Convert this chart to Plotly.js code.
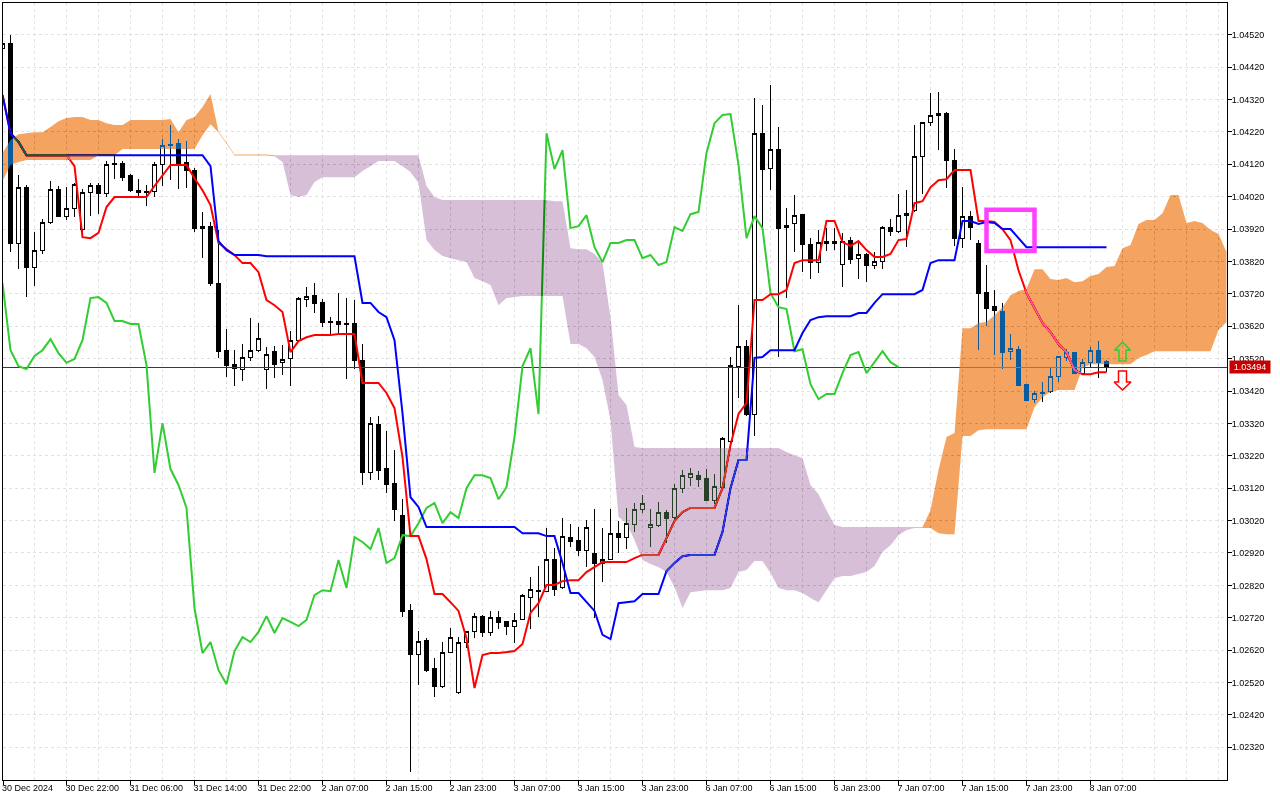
<!DOCTYPE html>
<html>
<head>
<meta charset="utf-8">
<script src="https://cdn.plot.ly/plotly-3.0.1.min.js"></script>
<style>
html,body{margin:0;padding:0;background:#fff;overflow:hidden}
#chart{width:1280px;height:800px}
/* the cloud is painted the way the terminal paints it: XOR-like over everything beneath */
.js-fill{mix-blend-mode:difference}
.boxlayer path{shape-rendering:crispEdges}
</style>
</head>
<body>
<div id="chart"></div>
<script>
const tickLabels=["30 Dec 2024","30 Dec 22:00","31 Dec 06:00","31 Dec 14:00","31 Dec 22:00","2 Jan 07:00","2 Jan 15:00","2 Jan 23:00","3 Jan 07:00","3 Jan 15:00","3 Jan 23:00","6 Jan 07:00","6 Jan 15:00","6 Jan 23:00","7 Jan 07:00","7 Jan 15:00","7 Jan 23:00","8 Jan 07:00"];
const tickBars=[0.07,8,16,24,32,40,48,56,64,72,80,88,96,104,112,120,128,136];
const priceTicks=[1.0232,1.0242,1.0252,1.0262,1.0272,1.0282,1.0292,1.0302,1.0312,1.0322,1.0332,1.0342,1.0352,1.0362,1.0372,1.0382,1.0392,1.0402,1.0412,1.0422,1.0432,1.0442,1.0452];
const open=[1.04476,1.04492,1.03877,1.04049,1.03802,1.03855,1.03939,1.04043,1.03960,1.03982,1.03920,1.04034,1.04056,1.04031,1.04118,1.04124,1.04084,1.04040,1.04034,1.04037,1.04118,1.04179,1.04185,1.04127,1.04102,1.03923,1.03929,1.03753,1.03546,1.03503,1.03485,1.03525,1.03546,1.03485,1.03543,1.03507,1.03519,1.03577,1.03704,1.03716,1.03692,1.03633,1.03636,1.03627,1.03627,1.03513,1.03167,1.03318,1.03182,1.03133,1.03037,1.02741,1.02608,1.02651,1.02564,1.02509,1.02614,1.02488,1.02645,1.02676,1.02725,1.02673,1.02722,1.02707,1.02694,1.02716,1.02784,1.02802,1.02802,1.02901,1.02812,1.02969,1.02957,1.02929,1.02917,1.02886,1.02901,1.02979,1.02969,1.03009,1.03055,1.03000,1.03006,1.03046,1.03028,1.03120,1.03154,1.03160,1.03151,1.03083,1.03123,1.03265,1.03497,1.03556,1.03349,1.04216,1.04108,1.04167,1.03926,1.03936,1.03966,1.03871,1.03818,1.03883,1.03877,1.03812,1.03886,1.03830,1.03840,1.03806,1.03821,1.03926,1.03911,1.03963,1.03976,1.04145,1.04250,1.04272,1.04278,1.04133,1.03892,1.03960,1.03874,1.03725,1.03682,1.03667,1.03543,1.03549,1.03441,1.03395,1.03411,1.03417,1.03466,1.03525,1.03540,1.03475,1.03507,1.03546,1.03510];
const high=[1.04504,1.04519,1.04087,1.04056,1.03911,1.03951,1.04068,1.04053,1.04049,1.04062,1.04043,1.04062,1.04062,1.04130,1.04148,1.04130,1.04090,1.04074,1.04056,1.04127,1.04198,1.04241,1.04198,1.04192,1.04108,1.03973,1.03942,1.03917,1.03611,1.03546,1.03565,1.03645,1.03630,1.03556,1.03559,1.03562,1.03605,1.03710,1.03741,1.03753,1.03704,1.03648,1.03722,1.03707,1.03701,1.03565,1.03340,1.03343,1.03296,1.03238,1.03086,1.02762,1.02679,1.02657,1.02595,1.02645,1.02688,1.02660,1.02679,1.02735,1.02728,1.02741,1.02741,1.02710,1.02735,1.02793,1.02846,1.02880,1.02997,1.02935,1.03028,1.03009,1.03000,1.03022,1.03055,1.02997,1.03055,1.03019,1.03059,1.03074,1.03099,1.03055,1.03077,1.03052,1.03133,1.03176,1.03182,1.03173,1.03179,1.03164,1.03278,1.03525,1.03685,1.03577,1.04324,1.04303,1.04365,1.04235,1.03985,1.04025,1.03966,1.03892,1.03917,1.03923,1.03923,1.03908,1.03895,1.03877,1.03846,1.03849,1.03929,1.03951,1.04028,1.04040,1.04241,1.04250,1.04340,1.04343,1.04281,1.04167,1.04049,1.03976,1.03886,1.03809,1.03732,1.03692,1.03596,1.03559,1.03441,1.03420,1.03448,1.03491,1.03528,1.03549,1.03540,1.03519,1.03556,1.03574,1.03516];
const low=[1.04467,1.03849,1.03796,1.03710,1.03744,1.03843,1.03936,1.03957,1.03948,1.03957,1.03892,1.03960,1.03966,1.04019,1.04074,1.04068,1.04034,1.04022,1.03991,1.04019,1.04053,1.04071,1.04043,1.04046,1.03911,1.03830,1.03744,1.03522,1.03463,1.03435,1.03451,1.03513,1.03540,1.03426,1.03460,1.03469,1.03435,1.03574,1.03679,1.03661,1.03617,1.03596,1.03599,1.03457,1.03488,1.03130,1.03145,1.03145,1.03105,1.03019,1.02722,1.02244,1.02512,1.02552,1.02475,1.02503,1.02611,1.02484,1.02626,1.02657,1.02660,1.02663,1.02685,1.02667,1.02642,1.02713,1.02685,1.02722,1.02799,1.02787,1.02808,1.02938,1.02910,1.02876,1.02719,1.02830,1.02899,1.02920,1.02932,1.02985,1.03043,1.02938,1.03000,1.02951,1.03022,1.03105,1.03126,1.03123,1.03080,1.03071,1.03120,1.03259,1.03398,1.03343,1.03281,1.03923,1.04040,1.03525,1.03707,1.03849,1.03787,1.03766,1.03784,1.03852,1.03855,1.03741,1.03812,1.03766,1.03756,1.03796,1.03796,1.03898,1.03908,1.03864,1.03973,1.04028,1.04238,1.04164,1.04046,1.03868,1.03861,1.03886,1.03546,1.03620,1.03531,1.03488,1.03516,1.03437,1.03389,1.03383,1.03386,1.03414,1.03448,1.03513,1.03472,1.03472,1.03494,1.03460,1.03478];
const close=[1.04492,1.03877,1.04049,1.03802,1.03855,1.03939,1.04043,1.03960,1.03982,1.04059,1.04034,1.04056,1.04031,1.04118,1.04124,1.04080,1.04040,1.04034,1.04037,1.04118,1.04179,1.04182,1.04124,1.04102,1.03923,1.03929,1.03753,1.03543,1.03500,1.03488,1.03525,1.03546,1.03583,1.03534,1.03503,1.03516,1.03577,1.03707,1.03713,1.03689,1.03633,1.03636,1.03624,1.03625,1.03513,1.03167,1.03321,1.03176,1.03130,1.03055,1.02738,1.02608,1.02648,1.02558,1.02509,1.02614,1.02660,1.02645,1.02676,1.02725,1.02673,1.02722,1.02704,1.02694,1.02713,1.02790,1.02808,1.02805,1.02901,1.02808,1.02972,1.02954,1.02929,1.03000,1.02886,1.02901,1.02979,1.02969,1.03012,1.03055,1.03074,1.03009,1.03046,1.03025,1.03120,1.03160,1.03164,1.03148,1.03083,1.03126,1.03272,1.03500,1.03556,1.03349,1.04216,1.04105,1.04167,1.03923,1.03932,1.03963,1.03871,1.03818,1.03880,1.03874,1.03883,1.03883,1.03827,1.03843,1.03806,1.03821,1.03926,1.03911,1.03963,1.03969,1.04145,1.04250,1.04272,1.04278,1.04133,1.03892,1.03960,1.03926,1.03722,1.03676,1.03670,1.03540,1.03552,1.03438,1.03392,1.03411,1.03414,1.03466,1.03528,1.03540,1.03475,1.03507,1.03546,1.03507,1.03494];
const tenkan=[1.04334,1.04216,1.04189,1.04148,1.04148,1.04148,1.04148,1.04148,1.04148,1.04114,1.03895,1.03892,1.03908,1.03988,1.04019,1.04019,1.04019,1.04019,1.04019,1.04053,1.04087,1.04118,1.04118,1.04118,1.04077,1.04040,1.03994,1.03877,1.03858,1.03840,1.03815,1.03815,1.03787,1.03701,1.03685,1.03664,1.03540,1.03574,1.03586,1.03593,1.03593,1.03593,1.03596,1.03596,1.03596,1.03445,1.03445,1.03445,1.03414,1.03367,1.03216,1.02972,1.02972,1.02901,1.02793,1.02793,1.02768,1.02741,1.02657,1.02503,1.02605,1.02611,1.02611,1.02614,1.02617,1.02639,1.02735,1.02765,1.02821,1.02821,1.02833,1.02836,1.02836,1.02861,1.02876,1.02892,1.02892,1.02892,1.02892,1.02904,1.02914,1.02914,1.02914,1.02966,1.03019,1.03046,1.03059,1.03059,1.03059,1.03059,1.03120,1.03253,1.03349,1.03383,1.03701,1.03701,1.03719,1.03719,1.03732,1.03815,1.03824,1.03824,1.03824,1.03945,1.03945,1.03880,1.03868,1.03883,1.03855,1.03834,1.03834,1.03843,1.03886,1.03889,1.04000,1.04006,1.04049,1.04071,1.04074,1.04102,1.04102,1.04102,1.03945,1.03945,1.03942,1.03920,1.03886,1.03793,1.03722,1.03676,1.03630,1.03602,1.03565,1.03540,1.03485,1.03472,1.03472,1.03478,1.03478];
const kijun=[1.04334,1.04216,1.04189,1.04148,1.04148,1.04148,1.04148,1.04148,1.04148,1.04148,1.04148,1.04148,1.04148,1.04148,1.04148,1.04148,1.04148,1.04148,1.04148,1.04148,1.04148,1.04148,1.04148,1.04148,1.04148,1.04148,1.04114,1.03883,1.03855,1.03840,1.03840,1.03840,1.03840,1.03836,1.03836,1.03836,1.03836,1.03836,1.03836,1.03836,1.03836,1.03836,1.03836,1.03836,1.03836,1.03692,1.03692,1.03664,1.03648,1.03577,1.03352,1.03092,1.03062,1.03000,1.03000,1.03000,1.03000,1.03000,1.03000,1.03000,1.03000,1.03000,1.03000,1.03000,1.03000,1.02981,1.02981,1.02981,1.02972,1.02972,1.02889,1.02796,1.02796,1.02768,1.02741,1.02667,1.02654,1.02765,1.02768,1.02771,1.02793,1.02793,1.02793,1.02864,1.02889,1.02910,1.02914,1.02914,1.02914,1.02914,1.02985,1.03120,1.03207,1.03207,1.03522,1.03525,1.03546,1.03546,1.03546,1.03546,1.03599,1.03639,1.03648,1.03651,1.03651,1.03651,1.03651,1.03661,1.03661,1.03692,1.03719,1.03719,1.03719,1.03719,1.03719,1.03732,1.03815,1.03824,1.03824,1.03824,1.03945,1.03945,1.03936,1.03942,1.03939,1.03920,1.03920,1.03892,1.03864,1.03864,1.03864,1.03864,1.03864,1.03864,1.03864,1.03864,1.03864,1.03864,1.03864];
const chikou=[1.03753,1.03546,1.03497,1.03488,1.03528,1.03546,1.03580,1.03537,1.03507,1.03519,1.03577,1.03707,1.03710,1.03692,1.03636,1.03636,1.03627,1.03627,1.03500,1.03167,1.03321,1.03179,1.03130,1.03059,1.02750,1.02611,1.02645,1.02558,1.02515,1.02617,1.02660,1.02645,1.02676,1.02725,1.02673,1.02719,1.02707,1.02694,1.02713,1.02790,1.02805,1.02802,1.02898,1.02812,1.02969,1.02954,1.02932,1.02997,1.02889,1.02904,1.02975,1.02972,1.03012,1.03059,1.03074,1.03012,1.03046,1.03028,1.03120,1.03160,1.03160,1.03151,1.03086,1.03123,1.03278,1.03497,1.03552,1.03349,1.04216,1.04105,1.04164,1.03923,1.03929,1.03963,1.03864,1.03818,1.03877,1.03877,1.03886,1.03886,1.03830,1.03840,1.03809,1.03818,1.03926,1.03914,1.03966,1.03973,1.04155,1.04247,1.04272,1.04275,1.04118,1.03892,1.03960,1.03923,1.03722,1.03679,1.03673,1.03543,1.03549,1.03441,1.03395,1.03411,1.03411,1.03475,1.03531,1.03540,1.03475,1.03509,1.03543,1.03509,1.03494];
const cloudTop=[1.04155,1.04195,1.04213,1.04216,1.04219,1.04219,1.04235,1.04253,1.04263,1.04266,1.04266,1.04257,1.04257,1.04247,1.04241,1.04241,1.04257,1.04257,1.04257,1.04257,1.04257,1.04260,1.04219,1.04257,1.04266,1.04297,1.04337,1.04221,1.04187,1.04150,1.04150,1.04150,1.04150,1.04150,1.04148,1.04148,1.04148,1.04148,1.04148,1.04148,1.04148,1.04148,1.04148,1.04148,1.04148,1.04148,1.04148,1.04148,1.04148,1.04148,1.04148,1.04148,1.04148,1.04053,1.04019,1.04010,1.04010,1.04010,1.04010,1.04010,1.04010,1.04010,1.04010,1.04010,1.04010,1.04010,1.04010,1.04010,1.04010,1.04006,1.04006,1.03861,1.03858,1.03858,1.03843,1.03815,1.03648,1.03408,1.03377,1.03247,1.03244,1.03244,1.03244,1.03244,1.03244,1.03244,1.03244,1.03244,1.03244,1.03244,1.03244,1.03244,1.03244,1.03244,1.03244,1.03244,1.03244,1.03244,1.03232,1.03222,1.03213,1.03130,1.03102,1.03052,1.03006,1.03000,1.03000,1.03000,1.03000,1.03000,1.03000,1.03000,1.03000,1.03000,1.03000,1.03000,1.03052,1.03176,1.03278,1.03290,1.03614,1.03614,1.03630,1.03633,1.03654,1.03679,1.03716,1.03729,1.03735,1.03796,1.03796,1.03766,1.03763,1.03769,1.03756,1.03759,1.03775,1.03781,1.03803,1.03806,1.03861,1.03871,1.03936,1.03948,1.03948,1.03969,1.04025,1.04025,1.03939,1.03945,1.03939,1.03917,1.03905,1.03849];
const cloudBottom=[1.04068,1.04118,1.04127,1.04133,1.04133,1.04133,1.04133,1.04133,1.04133,1.04133,1.04133,1.04133,1.04148,1.04148,1.04148,1.04167,1.04167,1.04167,1.04167,1.04167,1.04167,1.04167,1.04167,1.04167,1.04167,1.04210,1.04244,1.04218,1.04184,1.04147,1.04147,1.04147,1.04147,1.04147,1.04145,1.04127,1.04025,1.04019,1.04025,1.04065,1.04080,1.04080,1.04080,1.04080,1.04080,1.04099,1.04114,1.04130,1.04130,1.04130,1.04114,1.04096,1.04062,1.03886,1.03855,1.03837,1.03830,1.03824,1.03818,1.03769,1.03759,1.03747,1.03685,1.03707,1.03710,1.03713,1.03713,1.03713,1.03713,1.03713,1.03713,1.03565,1.03565,1.03552,1.03525,1.03454,1.03330,1.03031,1.03012,1.02960,1.02898,1.02886,1.02876,1.02861,1.02815,1.02750,1.02799,1.02802,1.02805,1.02805,1.02805,1.02812,1.02861,1.02867,1.02895,1.02895,1.02858,1.02812,1.02805,1.02805,1.02796,1.02781,1.02768,1.02805,1.02842,1.02849,1.02849,1.02855,1.02861,1.02880,1.02923,1.02944,1.02975,1.02991,1.02997,1.02997,1.02997,1.02981,1.02978,1.02978,1.03281,1.03281,1.03299,1.03302,1.03302,1.03302,1.03302,1.03302,1.03302,1.03370,1.03401,1.03417,1.03423,1.03423,1.03423,1.03491,1.03503,1.03503,1.03503,1.03503,1.03503,1.03503,1.03522,1.03531,1.03543,1.03543,1.03543,1.03543,1.03543,1.03543,1.03543,1.03543,1.03608,1.03633];
const cloudSegments=[[0,34,'rgb(11,91,159)'],[34,115,'rgb(39,64,39)'],[115,153,'rgb(11,91,159)']];
const lastPrice=1.03494;
const boxBars=[123,129];
const boxPrices=[1.03852,1.03980];
const upArrowX=[139,140,141,140.44,140.44,139.56,139.56,139];
const upArrowY=[1.03546,1.03571,1.03546,1.03546,1.03513,1.03513,1.03546,1.03546];
const downArrowX=[138.94,140,141.06,140.5,140.5,139.5,139.5,138.94];
const downArrowY=[1.03448,1.03423,1.03448,1.03448,1.03482,1.03482,1.03448,1.03448];

const bars=close.map((_,i)=>i);
const lineX=a=>a.map((_,i)=>i);
const traces=[];
traces.push({type:'candlestick',x:bars,open,high,low,close,whiskerwidth:0,hoverinfo:'skip',
  increasing:{line:{color:'#000',width:1},fillcolor:'#fff'},
  decreasing:{line:{color:'#000',width:1},fillcolor:'#000'}});
traces.push({type:'scatter',mode:'lines',x:[0,153],y:[lastPrice,lastPrice],line:{color:'#c00000',width:1},hoverinfo:'skip'});
traces.push({type:'scatter',mode:'lines',x:lineX(chikou),y:chikou,line:{color:'#32cd32',width:2},hoverinfo:'skip'});
traces.push({type:'scatter',mode:'lines',x:lineX(tenkan),y:tenkan,line:{color:'#ff0000',width:2},hoverinfo:'skip'});
traces.push({type:'scatter',mode:'lines',x:lineX(kijun),y:kijun,line:{color:'#0000ff',width:2},hoverinfo:'skip'});
cloudSegments.forEach(([a,b,c])=>{
  const xs=[],ys=[];
  for(let i=a;i<=b;i++){xs.push(i);ys.push(cloudTop[i]);}
  for(let i=b;i>=a;i--){xs.push(i);ys.push(cloudBottom[i]);}
  traces.push({type:'scatter',mode:'none',x:xs,y:ys,fill:'toself',fillcolor:c,hoverinfo:'skip'});
});
traces.push({type:'scatter',mode:'lines',x:upArrowX,y:upArrowY,line:{color:'#32cd32',width:1.5},hoverinfo:'skip'});
traces.push({type:'scatter',mode:'lines',x:downArrowX,y:downArrowY,line:{color:'#ff0000',width:1.5},hoverinfo:'skip'});

const gridBars=[];
for(let i=4;i<=152;i+=4)gridBars.push(i);
const font={family:'"Liberation Sans",Arial,sans-serif',size:9,color:'#000'};
const layout={
  width:1280,height:800,showlegend:false,paper_bgcolor:'#fff',plot_bgcolor:'#fff',
  margin:{l:3,r:53,t:3,b:20,pad:0},boxgap:0.42,
  xaxis:{type:'linear',range:[0.0625,153.0625],tickmode:'array',tickvals:tickBars,ticktext:tickLabels,
    ticklabelposition:'outside right',ticklabelshift:-2,ticklabelstandoff:-1,ticks:'outside',ticklen:4,tickcolor:'#000',tickwidth:1,tickangle:0,
    showline:true,linecolor:'#000',linewidth:1,mirror:true,zeroline:false,
    showgrid:false,tickfont:font,
    minor:{tickmode:'array',tickvals:gridBars,showgrid:true,gridcolor:'#e2e2e2',griddash:'3px,3px',gridwidth:1,ticks:''},
    rangeslider:{visible:false},fixedrange:true},
  yaxis:{side:'right',range:[1.02219,1.04618],tickmode:'array',tickvals:priceTicks,tickformat:'.5f',ticklabelstandoff:-2,ticks:'outside',ticklen:4,tickcolor:'#000',tickwidth:1,
    showline:true,linecolor:'#000',linewidth:1,mirror:true,zeroline:false,
    showgrid:true,gridcolor:'#e2e2e2',griddash:'3px,3px',gridwidth:1,tickfont:font,fixedrange:true},
  shapes:[
    {type:'rect',layer:'above',xref:'x',yref:'y',x0:boxBars[0],x1:boxBars[1],y0:boxPrices[0],y1:boxPrices[1],line:{color:'#ff40ff',width:4.5},fillcolor:'rgba(0,0,0,0)'}
  ],
  annotations:[{xref:'paper',yref:'y',x:1,xshift:2,y:lastPrice,xanchor:'left',yanchor:'middle',showarrow:false,text:'1.03494',
    font:{family:font.family,size:9,color:'#fff'},bgcolor:'#c80000',borderpad:1,width:38,align:'center'}]
};
Plotly.newPlot('chart',traces,layout,{displayModeBar:false,staticPlot:true}).then(()=>{
  const NS='http://www.w3.org/2000/svg';
  const svg=document.querySelector('.main-svg');
  const plot=svg.querySelector('.scatterlayer').parentNode;
  const backdrop=document.createElementNS(NS,'rect');
  backdrop.setAttribute('width',1280);backdrop.setAttribute('height',800);backdrop.setAttribute('fill','#fff');
  svg.insertBefore(backdrop,svg.querySelector('.cartesianlayer'));
  const topGroup=document.createElementNS(NS,'g');
  topGroup.setAttribute('transform',plot.getAttribute('transform')||'translate(3,3)');
  const scatterTraces=[...plot.querySelectorAll('.scatterlayer .trace')];
  plot.querySelectorAll('.js-fill').forEach(p=>topGroup.appendChild(p));
  scatterTraces.slice(-2).forEach(t=>topGroup.appendChild(t));
  svg.insertBefore(topGroup,svg.querySelector('.layer-above'));
  const priceLine=scatterTraces[0].querySelector('.js-line');
  if(priceLine)priceLine.style.shapeRendering='crispEdges';
});
</script>
</body>
</html>
